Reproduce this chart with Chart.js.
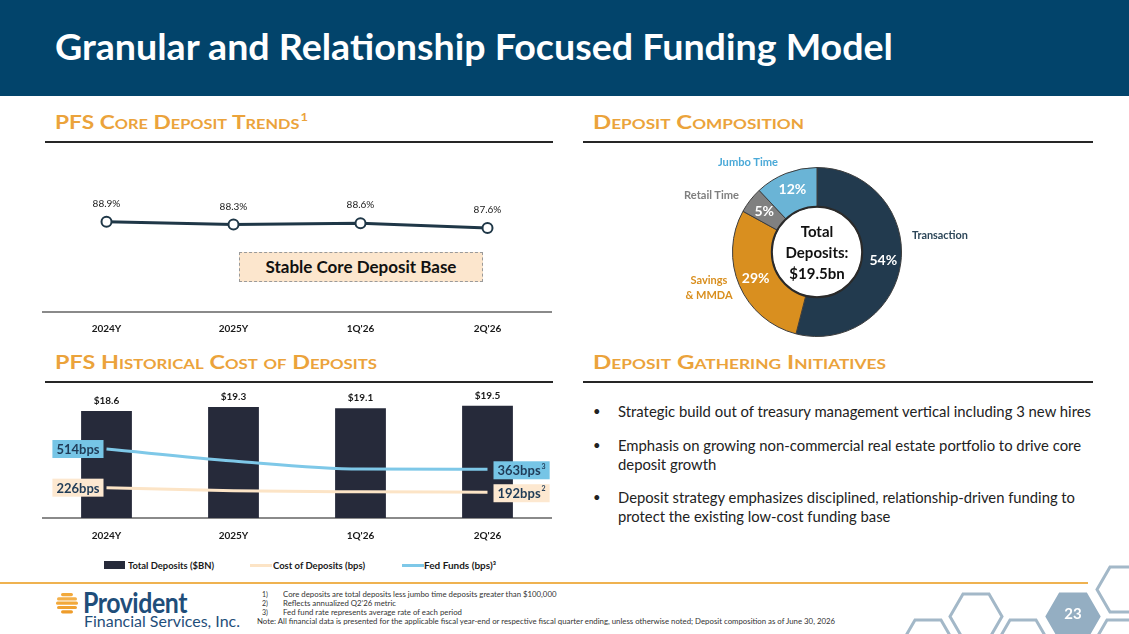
<!DOCTYPE html>
<html>
<head>
<meta charset="utf-8">
<title>Granular and Relationship Focused Funding Model</title>
<script src="https://cdn.jsdelivr.net/npm/chart.js@4.4.1/dist/chart.umd.min.js"></script>
<style>
  html, body { margin: 0; padding: 0; }
  body { width: 1129px; height: 634px; position: relative; overflow: hidden; background: #fff;
         font-family: Lato, "Open Sans", sans-serif; color: #1a1a1a; }
  .abs { position: absolute; white-space: nowrap; line-height: 1; }
  [data-w], .fnt { transform-origin: 0 0; }
  canvas { position: absolute; }
  #titleBar { left: 0; top: 0; width: 1129px; height: 96px; background: #02446b; }
  #title { left: 55px; top: 28px; font-size: 36px; font-weight: 700; color: #fff; }
  .hdr { font-size: 19.5px; font-weight: 700; color: #eba33b; font-variant: small-caps; }
  .hdr sup { font-size: 11px; vertical-align: 0; position: relative; top: -8px; margin-left: 1px; }
  .rule { height: 2px; background: #262626; }
  #stable { left: 239px; top: 252px; width: 244px; height: 30px; box-sizing: border-box;
            background: #fce6cd; border: 1px dashed #9a9a9a; font-size: 17px; font-weight: 700;
            color: #111; text-align: center; line-height: 28px; }
  .lg { font-size: 10px; font-weight: 700; color: #1a1a1a; }
  .sw { position: absolute; }
  .donutLbl { font-size: 11px; font-weight: 700; }
  .bul { font-size: 15px; color: #222; line-height: 19px; }
  .dot { font-size: 13px; color: #222; line-height: 19px; }
  .fn { font-size: 7px; color: #333; line-height: 9px; }
  #orangeLine { left: 0; top: 582px; width: 1088px; height: 2px; background: #efb250; }
  .logo1 { font-size: 28px; font-weight: 700; color: #1f4e7a; letter-spacing: -0.5px; }
  .logo2 { font-size: 15.5px; color: #1f4e7a; }
</style>
</head>
<body>

<div id="titleBar" class="abs"></div>
<div id="title" class="abs" data-w="838">Granular and Relationship Focused Funding Model</div>

<div class="abs hdr" style="left:55px;top:112px" data-w="253">PFS Core Deposit Trends<sup>1</sup></div>
<div class="abs rule" style="left:45px;top:141px;width:508px"></div>
<div class="abs hdr" style="left:593px;top:112px" data-w="211">Deposit Composition</div>
<div class="abs rule" style="left:583px;top:141px;width:510px"></div>
<div class="abs hdr" style="left:55px;top:352px" data-w="322">PFS Historical Cost of Deposits</div>
<div class="abs rule" style="left:45px;top:381px;width:508px"></div>
<div class="abs hdr" style="left:593px;top:352px" data-w="293">Deposit Gathering Initiatives</div>
<div class="abs rule" style="left:583px;top:381px;width:510px"></div>

<canvas id="coreChart" width="520" height="201" style="left:40px;top:145px;width:520px;height:201px"></canvas>
<div id="stable" class="abs">Stable Core Deposit Base</div>

<canvas id="depositChart" width="520" height="165" style="left:40px;top:385px;width:520px;height:165px"></canvas>

<div class="sw" style="left:104px;top:561px;width:21px;height:8px;background:#262a3a"></div>
<div class="abs lg" style="left:128px;top:560px" data-w="86">Total Deposits ($BN)</div>
<div class="sw" style="left:250px;top:564px;width:22px;height:3px;background:#fce4c6"></div>
<div class="abs lg" style="left:273px;top:560px" data-w="92">Cost of Deposits (bps)</div>
<div class="sw" style="left:402px;top:564px;width:22px;height:3px;background:#7ec8e8"></div>
<div class="abs lg" style="left:424px;top:560px" data-w="72">Fed Funds (bps)³</div>

<canvas id="mixChart" width="310" height="200" style="left:680px;top:150px;width:310px;height:200px"></canvas>
<div class="abs donutLbl" style="left:718px;top:156px;color:#4aa9d8" data-w="60">Jumbo Time</div>
<div class="abs donutLbl" style="left:684px;top:189px;color:#7f7f7f" data-w="55">Retail Time</div>
<div class="abs donutLbl" style="left:684px;top:272px;width:50px;text-align:center;line-height:15px;color:#d98f1f">Savings<br>&amp; MMDA</div>
<div class="abs donutLbl" style="left:912px;top:229px;color:#2c4658" data-w="56">Transaction</div>

<div class="abs dot" style="left:593px;top:402px">•</div>
<div class="abs bul" style="left:618px;top:402px" data-w="473">Strategic build out of treasury management vertical including 3 new hires</div>
<div class="abs dot" style="left:593px;top:436px">•</div>
<div class="abs bul" style="left:618px;top:436px" data-w="463">Emphasis on growing non-commercial real estate portfolio to drive core<br>deposit growth</div>
<div class="abs dot" style="left:593px;top:488px">•</div>
<div class="abs bul" style="left:618px;top:488px" data-w="457">Deposit strategy emphasizes disciplined, relationship-driven funding to<br>protect the existing low-cost funding base</div>

<div id="orangeLine" class="abs"></div>

<svg class="abs" style="left:56px;top:593px" width="22" height="21" viewBox="0 0 22 21">
  <rect x="5" y="0" width="12" height="3.2" rx="1.6" fill="#f2a93b"/>
  <rect x="1" y="4.3" width="20" height="3.2" rx="1.6" fill="#f4b04a"/>
  <rect x="0" y="8.6" width="22" height="3.2" rx="1.6" fill="#f2a93b"/>
  <rect x="1" y="12.9" width="20" height="3.2" rx="1.6" fill="#f0a232"/>
  <rect x="5" y="17.2" width="12" height="3.2" rx="1.6" fill="#ee9c2a"/>
</svg>
<div class="abs logo1" style="left:83px;top:588px" data-w="104">Provident</div>
<div class="abs logo2" style="left:84px;top:614px" data-w="156">Financial Services, Inc.</div>

<div class="abs fn" style="left:262px;top:590px">1)</div>
<div class="abs fn fnt" style="left:283px;top:590px">Core deposits are total deposits less jumbo time deposits greater than $100,000</div>
<div class="abs fn" style="left:262px;top:599px">2)</div>
<div class="abs fn fnt" style="left:283px;top:599px">Reflects annualized Q2’26 metric</div>
<div class="abs fn" style="left:262px;top:608px">3)</div>
<div class="abs fn fnt" style="left:283px;top:608px">Fed fund rate represents average rate of each period</div>
<div id="note" class="abs fn fnt" style="left:257px;top:617px">Note: All financial data is presented for the applicable fiscal year-end or respective fiscal quarter ending, unless otherwise noted; Deposit composition as of June 30, 2026</div>

<svg id="hexes" class="abs" style="left:0;top:0" width="1129" height="634"></svg>

<script>
// Chart data
const periods = ["2024Y", "2025Y", "1Q'26", "2Q'26"];
const corePct = [88.9, 88.3, 88.6, 87.6];
const totalDeposits = [18.6, 19.3, 19.1, 19.5];
const costOfDeposits = [226, 203, 195, 192];
const fedFunds = [514, 425, 365, 363];
const compositionLabels = ["Transaction", "Savings & MMDA", "Retail Time", "Jumbo Time"];
const compositionPct = [54, 29, 5, 12];
const centerText = ["Total", "Deposits:", "$19.5bn"];

const FONT = "Lato, 'Open Sans', sans-serif";
Chart.defaults.font.family = FONT;

// Chart colors
const colors = {
  core: "#1f3747",
  bars: "#262a3a",
  cost: "#fce4c6",
  costTag: "#fde8d0",
  fed: "#7ec8e8",
  fedTag: "#76c5e6",
  tagText: "#1f3b57",
  axis: "#8a8a8a",
  mix: ["#223a4e", "#d98f1f", "#808080", "#6ab4d6"],
};

// Shared x axis for the two left charts
const periodAxis = (height, padding) => ({
  offset: true,
  grid: { display: false, drawTicks: false },
  border: { color: colors.axis, width: 2 },
  ticks: { color: "#1a1a1a", padding: padding, font: { size: 10, weight: "bold" } },
  afterFit: (scale) => { scale.height = height; },
});

// Percent labels above the core deposit points
const coreLabels = {
  id: "coreLabels",
  afterDatasetsDraw(chart) {
    const ctx = chart.ctx;
    ctx.save();
    ctx.font = "10px " + FONT;
    ctx.fillStyle = "#1a1a1a";
    ctx.textAlign = "center";
    ctx.textBaseline = "middle";
    chart.getDatasetMeta(0).data.forEach((pt, i) => {
      ctx.fillText(corePct[i].toFixed(1) + "%", pt.x, pt.y - 18);
    });
    ctx.restore();
  },
};

new Chart(document.getElementById("coreChart"), {
  type: "line",
  data: {
    labels: periods,
    datasets: [{
      data: corePct,
      borderColor: colors.core,
      borderWidth: 3,
      pointRadius: 5,
      pointBorderWidth: 2,
      pointBackgroundColor: "#fff",
      pointBorderColor: colors.core,
    }],
  },
  options: {
    animation: false,
    responsive: false,
    layout: { autoPadding: false, padding: { left: 3, right: 9, top: 0, bottom: 0 } },
    plugins: { legend: { display: false }, tooltip: { enabled: false } },
    scales: {
      x: periodAxis(34, 11),
      y: { display: false, min: 70.3, max: 104.7 },
    },
  },
  plugins: [coreLabels],
});

// Draw a "514bps" style tag next to a line end
function drawTag(ctx, x, y, text, sup, fill, side) {
  ctx.font = "bold 13px " + FONT;
  const tw = ctx.measureText(text).width;
  ctx.font = "bold 7px " + FONT;
  const sw = sup ? ctx.measureText(sup).width + 1 : 0;
  const w = tw + sw + 8;
  const h = 18;
  const left = side === "left" ? x - 3 - w : x + 6;
  ctx.fillStyle = fill;
  ctx.fillRect(left, y - h / 2, w, h);
  ctx.fillStyle = colors.tagText;
  ctx.textAlign = "left";
  ctx.textBaseline = "middle";
  ctx.font = "bold 13px " + FONT;
  ctx.fillText(text, left + 4, y + 1);
  if (sup) {
    ctx.font = "bold 7px " + FONT;
    ctx.fillText(sup, left + 4 + tw + 1, y - 4);
  }
}

const depositLabels = {
  id: "depositLabels",
  afterDatasetsDraw(chart) {
    const ctx = chart.ctx;
    ctx.save();
    // bar values
    ctx.font = "bold 10px " + FONT;
    ctx.fillStyle = "#1a1a1a";
    ctx.textAlign = "center";
    ctx.textBaseline = "middle";
    chart.getDatasetMeta(2).data.forEach((bar, i) => {
      ctx.fillText("$" + totalDeposits[i].toFixed(1), bar.x, bar.y - 10);
    });
    // first and last bps tags
    const fed = chart.getDatasetMeta(0).data;
    const cost = chart.getDatasetMeta(1).data;
    const last = periods.length - 1;
    drawTag(ctx, fed[0].x, fed[0].y, fedFunds[0] + "bps", "", colors.fedTag, "left");
    drawTag(ctx, cost[0].x, cost[0].y, costOfDeposits[0] + "bps", "", colors.costTag, "left");
    drawTag(ctx, fed[last].x, fed[last].y + 1, fedFunds[last] + "bps", "3", colors.fedTag, "right");
    drawTag(ctx, cost[last].x, cost[last].y + 1, costOfDeposits[last] + "bps", "2", colors.costTag, "right");
    ctx.restore();
  },
};

new Chart(document.getElementById("depositChart"), {
  type: "bar",
  data: {
    labels: periods,
    datasets: [
      {
        type: "line", label: "Fed Funds (bps)", data: fedFunds, yAxisID: "yBps",
        borderColor: colors.fed, borderWidth: 3, pointRadius: 0,
        cubicInterpolationMode: "monotone", order: 0,
      },
      {
        type: "line", label: "Cost of Deposits (bps)", data: costOfDeposits, yAxisID: "yBps",
        borderColor: colors.cost, borderWidth: 3, pointRadius: 0,
        cubicInterpolationMode: "monotone", order: 1,
      },
      {
        type: "bar", label: "Total Deposits ($BN)", data: totalDeposits, yAxisID: "y",
        backgroundColor: colors.bars, barPercentage: 0.4, categoryPercentage: 1, order: 2,
      },
    ],
  },
  options: {
    animation: false,
    responsive: false,
    layout: { autoPadding: false, padding: { left: 3, right: 9, top: 0, bottom: 0 } },
    plugins: { legend: { display: false }, tooltip: { enabled: false } },
    scales: {
      x: periodAxis(32, 12),
      y: { display: false, min: 0, max: 23.13 },
      yBps: { display: false, min: 0, max: 991 },
    },
  },
  plugins: [depositLabels],
});

// Percentages, inner ring and center text of the doughnut
const mixLabels = {
  id: "mixLabels",
  afterDatasetsDraw(chart) {
    const ctx = chart.ctx;
    const arcs = chart.getDatasetMeta(0).data;
    const cx = arcs[0].x;
    const cy = arcs[0].y;
    ctx.save();
    ctx.beginPath();
    ctx.arc(cx, cy, arcs[0].innerRadius, 0, Math.PI * 2);
    ctx.lineWidth = 2;
    ctx.strokeStyle = "#2a2a2a";
    ctx.stroke();
    ctx.font = "bold 14px " + FONT;
    ctx.fillStyle = "#fff";
    ctx.textAlign = "center";
    ctx.textBaseline = "middle";
    arcs.forEach((arc, i) => {
      const mid = (arc.startAngle + arc.endAngle) / 2;
      const r = arc.innerRadius + (arc.outerRadius - arc.innerRadius) * 0.55;
      ctx.fillText(compositionPct[i] + "%", cx + Math.cos(mid) * r, cy + Math.sin(mid) * r);
    });
    ctx.font = "bold 15px " + FONT;
    ctx.fillStyle = "#111";
    centerText.forEach((t, i) => ctx.fillText(t, cx, cy - 20 + i * 21));
    ctx.restore();
  },
};

new Chart(document.getElementById("mixChart"), {
  type: "doughnut",
  data: {
    labels: compositionLabels,
    datasets: [{
      data: compositionPct,
      backgroundColor: colors.mix,
      borderColor: "#3d3d3d",
      borderWidth: 1,
    }],
  },
  options: {
    animation: false,
    responsive: false,
    cutout: "53.5%",
    layout: { padding: { left: 52, right: 88, top: 17, bottom: 13 } },
    plugins: { legend: { display: false }, tooltip: { enabled: false } },
  },
  plugins: [mixLabels],
});

// Decorative hexagons, bottom right
const svg = document.getElementById("hexes");
const hexList = [
  [1097, 567, false], [950, 594, false], [1047, 594, true],
  [902, 620, false], [997, 620, false], [1094, 620, false],
];
hexList.forEach(([x, y, filled]) => {
  const W = 52, H = 45;
  const pts = [[x, y + H / 2], [x + W / 4, y], [x + 3 * W / 4, y], [x + W, y + H / 2],
               [x + 3 * W / 4, y + H], [x + W / 4, y + H]].map(p => p.join(",")).join(" ");
  const poly = document.createElementNS("http://www.w3.org/2000/svg", "polygon");
  poly.setAttribute("points", pts);
  poly.setAttribute("fill", filled ? "#94aec2" : "none");
  poly.setAttribute("stroke", filled ? "#94aec2" : "#a3b8c8");
  poly.setAttribute("stroke-width", "3");
  svg.appendChild(poly);
  if (filled) {
    const t = document.createElementNS("http://www.w3.org/2000/svg", "text");
    t.setAttribute("x", x + W / 2);
    t.setAttribute("y", y + 25);
    t.setAttribute("text-anchor", "middle");
    t.setAttribute("fill", "#fff");
    t.setAttribute("font-size", "15");
    t.setAttribute("font-weight", "700");
    t.setAttribute("font-family", "Lato, sans-serif");
    t.textContent = "23";
    svg.appendChild(t);
  }
});

// Squeeze text to the widths of the original slide font
document.querySelectorAll("[data-w]").forEach((el) => {
  const w = el.getBoundingClientRect().width;
  el.style.transform = "scaleX(" + (parseFloat(el.dataset.w) / w).toFixed(4) + ")";
});
// footnotes share one squeeze factor, taken from the note line
const noteScale = 578 / document.getElementById("note").getBoundingClientRect().width;
document.querySelectorAll(".fnt").forEach((el) => {
  el.style.transform = "scaleX(" + noteScale.toFixed(4) + ")";
});
</script>
</body>
</html>
